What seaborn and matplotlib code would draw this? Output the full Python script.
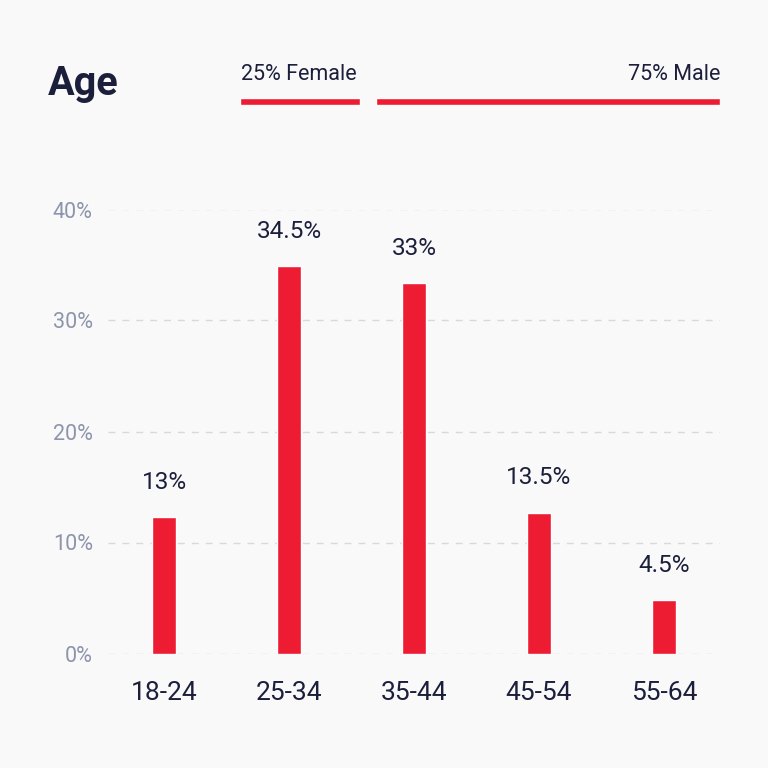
import numpy as np
import pandas as pd
import matplotlib.pyplot as plt
import seaborn as sns

# data
age_groups = ['18-24', '25-34', '35-44', '45-54', '55-64']
bar_heights = [12.3, 34.9, 33.4, 12.7, 4.8]
bar_labels = ['13%', '34.5%', '33%', '13.5%', '4.5%']
y_ticks = [0, 10, 20, 30, 40]
gender_names = ['Female', 'Male']
gender_share = [25, 75]

RED = '#ed1c33'
NAVY = '#1b1f3b'
GREY = '#8d95ad'
BG = '#f9f9f9'

sns.set_style("white")
plt.rcParams['font.family'] = ['Roboto', 'DejaVu Sans']

fig = plt.figure(figsize=(7.68, 7.68), dpi=100, facecolor=BG)
W = H = 768.0

# main bar chart
ax = fig.add_axes([108 / W, 1 - 653.5 / H, 612 / W, 444 / H], facecolor=BG)
df = pd.DataFrame({'age': age_groups, 'share': bar_heights})
sns.barplot(data=df, x='age', y='share', ax=ax, color=RED, saturation=1,
            width=0.19, zorder=3)

ax.set_xlim(-0.45, len(age_groups) - 0.55)
ax.set_ylim(0, 40)
ax.set_yticks(y_ticks)
ax.set_yticklabels([f'{t}%' for t in y_ticks])
ax.set_xlabel('')
ax.set_ylabel('')
ax.yaxis.grid(True, linestyle=(0, (5, 5)), color='#d6d9e2', linewidth=1, zorder=0)
ax.xaxis.grid(False)
for s in ax.spines.values():
    s.set_visible(False)
ax.tick_params(axis='x', length=0, pad=20, labelsize=19, labelcolor=NAVY)
ax.tick_params(axis='y', length=0, pad=11, labelsize=15.5, labelcolor=GREY)

for i, (h, lab) in enumerate(zip(bar_heights, bar_labels)):
    ax.annotate(lab, (i, h), xytext=(0, 25), textcoords='offset points',
                ha='center', va='center', fontsize=17.5, color=NAVY)

# title
fig.text(48 / W, 1 - 95 / H, 'Age', fontsize=28.5, fontweight='bold',
         color=NAVY, ha='left', va='baseline')

# gender split header
hax = fig.add_axes([240 / W, 1 - 105 / H, 480 / W, 7 / H])
hax.set_xlim(0, 100)
hax.set_ylim(0, 1)
hax.axis('off')
gap = 16 / 480 * 100
lefts = np.cumsum([0] + gender_share[:-1])
for k, (share, left) in enumerate(zip(gender_share, lefts)):
    start = left + (gap if k > 0 else 0)
    hax.barh(0.5, share - (gap if k > 0 else 0), left=start, height=1,
             color=RED)
for k, (name, share) in enumerate(zip(gender_names, gender_share)):
    if k == 0:
        fig.text(241 / W, 1 - 80 / H, f'{share}% {name}', fontsize=15.5,
                 color=NAVY, ha='left', va='baseline')
    else:
        fig.text(720 / W, 1 - 80 / H, f'{share}% {name}', fontsize=15.5,
                 color=NAVY, ha='right', va='baseline')

fig.savefig('out.png', dpi=100, facecolor=BG)
